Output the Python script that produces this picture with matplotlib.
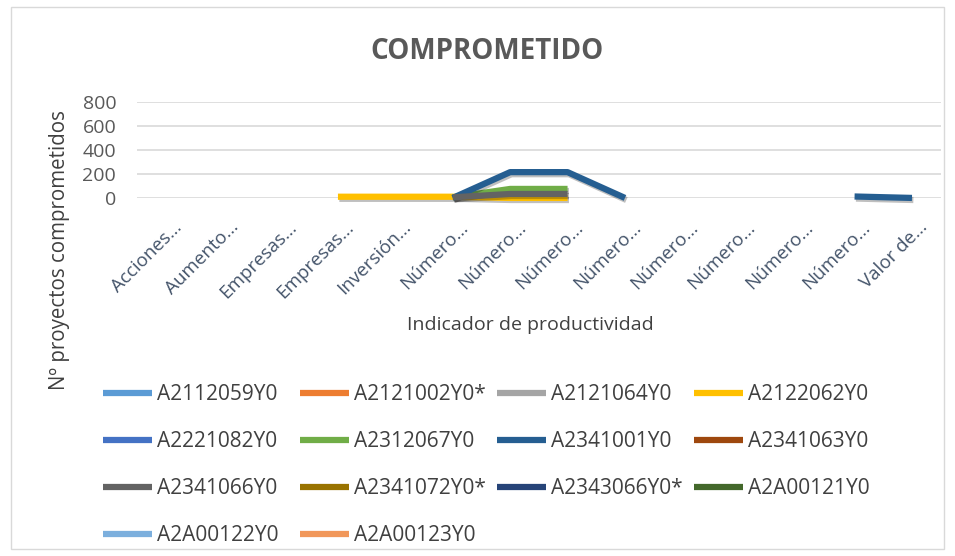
import numpy as np
import matplotlib
matplotlib.use('Agg')
from matplotlib import pyplot as plt
import matplotlib.patheffects as pe
import matplotlib.transforms as mtransforms

plt.rcParams['font.family'] = ['Open Sans', 'DejaVu Sans']

categories = ['Acciones...', 'Aumento...', 'Empresas...', 'Empresas...', 'Inversión...',
              'Número...', 'Número...', 'Número...', 'Número...', 'Número...',
              'Número...', 'Número...', 'Número...', 'Valor de...']

nan = np.nan
empty = [nan] * 14
A2112059Y0 = empty
A2121002Y0 = empty
A2121064Y0 = empty
A2122062Y0 = [nan, nan, nan, 10, 10, 10, 0, 0, nan, nan, nan, nan, nan, nan]
A2221082Y0 = empty
A2312067Y0 = [nan, nan, nan, nan, nan, 5, 75, 75, nan, nan, nan, nan, nan, nan]
A2341001Y0 = [nan, nan, nan, nan, nan, 0, 215, 215, 0, nan, nan, nan, 12, 0]
A2341063Y0 = empty
A2341066Y0 = [nan, nan, nan, nan, nan, 5, 33, 33, nan, nan, nan, nan, nan, nan]
A2341072Y0 = empty
A2343066Y0 = empty
A2A00121Y0 = empty
A2A00122Y0 = empty
A2A00123Y0 = empty

series = [
    ('A2112059Y0', A2112059Y0, '#5B9BD5'),
    ('A2121002Y0*', A2121002Y0, '#ED7D31'),
    ('A2121064Y0', A2121064Y0, '#A5A5A5'),
    ('A2122062Y0', A2122062Y0, '#FFC000'),
    ('A2221082Y0', A2221082Y0, '#4472C4'),
    ('A2312067Y0', A2312067Y0, '#70AD47'),
    ('A2341001Y0', A2341001Y0, '#255E91'),
    ('A2341063Y0', A2341063Y0, '#9E480E'),
    ('A2341066Y0', A2341066Y0, '#636363'),
    ('A2341072Y0*', A2341072Y0, '#997300'),
    ('A2343066Y0*', A2343066Y0, '#264478'),
    ('A2A00121Y0', A2A00121Y0, '#43682B'),
    ('A2A00122Y0', A2A00122Y0, '#7CAFDD'),
    ('A2A00123Y0', A2A00123Y0, '#F1975A'),
]

fig = plt.figure(figsize=(9.55, 5.56), dpi=100)
ax = fig.add_axes([0.1435, 0.644, 0.8415, 0.1727])

x = np.arange(len(categories))
handles = []
for name, vals, color in series:
    ln, = ax.plot(x, vals, color=color, lw=4.5, label=name, clip_on=False,
                  solid_capstyle='butt',
                  path_effects=[pe.SimpleLineShadow(offset=(1, -1.5), alpha=0.25), pe.Normal()])
    handles.append(ln)

ax.set_xlim(-0.5, len(categories) - 0.5)
ax.set_ylim(0, 800)
ax.set_yticks([0, 200, 400, 600, 800])
ax.grid(axis='y', color='#D9D9D9', lw=1.2)
ax.set_axisbelow(True)
for s in ax.spines.values():
    s.set_visible(False)
ax.tick_params(axis='both', length=0)
ax.tick_params(axis='y', labelsize=14, pad=15, colors='#595959')
ax.set_xticks(x)
ax.set_xticklabels(categories, rotation=45, ha='right', va='center',
                   rotation_mode='anchor', fontsize=13.5, color='#44546A')
ax.tick_params(axis='x', pad=19)
shift = mtransforms.ScaledTranslation(13 / 100, 0, fig.dpi_scale_trans)
for lab in ax.get_xticklabels():
    lab.set_transform(lab.get_transform() + shift)

fig.text(0.555, 0.415, 'Indicador de productividad', fontsize=14, color='#404040',
         ha='center', va='center')
fig.text(0.062, 0.55, 'Nº proyectos comprometidos', rotation=90, fontsize=14.8,
         color='#404040', ha='center', va='center')

fig.text(0.51, 0.907, 'COMPROMETIDO', fontsize=20, fontweight='bold',
         color='#595959', ha='center', va='center')

# legend: 4 fixed-width columns, filled row-wise
col_x = [0.108, 0.314, 0.52, 0.727]
for c in range(4):
    idx = list(range(c, len(series), 4))
    leg = fig.legend([handles[i] for i in idx], [series[i][0] for i in idx],
                     loc='upper left', bbox_to_anchor=(col_x[c], 0.309),
                     frameon=False, fontsize=15, handlelength=2.35,
                     handletextpad=0.25, labelspacing=1.25, borderpad=0,
                     borderaxespad=0, labelcolor='#404040')
    for h in leg.legend_handles:
        h.set_path_effects([])
        h.set_linewidth(4.5)

fig.patches.append(plt.Rectangle((0.011, 0.012), 0.978, 0.975, transform=fig.transFigure,
                                 fill=False, edgecolor='#D9D9D9', lw=1))

fig.savefig('out.png', dpi=100)
